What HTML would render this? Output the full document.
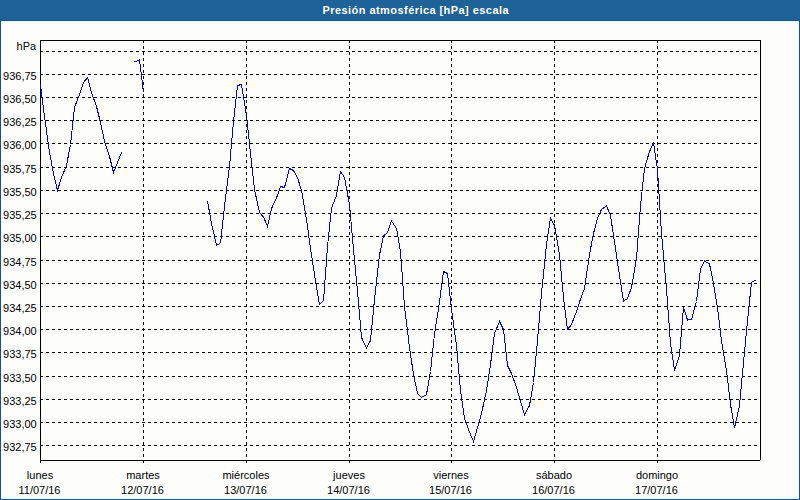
<!DOCTYPE html>
<html><head><meta charset="utf-8"><title>Presión atmosférica</title>
<style>
html,body{margin:0;padding:0;background:#fdfefc;}
body{width:800px;height:500px;overflow:hidden;position:relative;font-family:"Liberation Sans",sans-serif;}
#frame{position:absolute;left:0;top:0;width:798px;height:498px;border:1px solid #10568f;background:#fdfefc;}
#hdr{position:absolute;left:0;top:0;width:800px;height:20px;background:#1e6297;border-bottom:1px solid #10568f;color:#fff;font-weight:bold;font-size:11px;line-height:20px;white-space:nowrap;}
#ttl{position:absolute;left:322.5px;top:0;letter-spacing:0.44px;}
svg{position:absolute;left:0;top:0;}
svg text{font-family:"Liberation Sans",sans-serif;font-size:11px;fill:#000;}
</style></head><body>
<div id="frame"></div>
<div id="hdr"><span id="ttl">Presión atmosférica [hPa] escala</span></div>
<svg width="800" height="500" viewBox="0 0 800 500">
<g stroke="#000" stroke-width="1" stroke-dasharray="3 3" shape-rendering="crispEdges" fill="none">
<line x1="40" y1="51.5" x2="760" y2="51.5"/>
<line x1="40" y1="74.5" x2="760" y2="74.5"/>
<line x1="40" y1="97.5" x2="760" y2="97.5"/>
<line x1="40" y1="120.5" x2="760" y2="120.5"/>
<line x1="40" y1="143.5" x2="760" y2="143.5"/>
<line x1="40" y1="167.5" x2="760" y2="167.5"/>
<line x1="40" y1="190.5" x2="760" y2="190.5"/>
<line x1="40" y1="213.5" x2="760" y2="213.5"/>
<line x1="40" y1="236.5" x2="760" y2="236.5"/>
<line x1="40" y1="260.5" x2="760" y2="260.5"/>
<line x1="40" y1="283.5" x2="760" y2="283.5"/>
<line x1="40" y1="306.5" x2="760" y2="306.5"/>
<line x1="40" y1="329.5" x2="760" y2="329.5"/>
<line x1="40" y1="352.5" x2="760" y2="352.5"/>
<line x1="40" y1="376.5" x2="760" y2="376.5"/>
<line x1="40" y1="399.5" x2="760" y2="399.5"/>
<line x1="40" y1="422.5" x2="760" y2="422.5"/>
<line x1="40" y1="445.5" x2="760" y2="445.5"/>
<line x1="143.5" y1="40" x2="143.5" y2="460"/>
<line x1="246.5" y1="40" x2="246.5" y2="460"/>
<line x1="349.5" y1="40" x2="349.5" y2="460"/>
<line x1="451.5" y1="40" x2="451.5" y2="460"/>
<line x1="554.5" y1="40" x2="554.5" y2="460"/>
<line x1="657.5" y1="40" x2="657.5" y2="460"/>
</g>
<g fill="#000" shape-rendering="crispEdges">
<rect x="40" y="40" width="721" height="1"/>
<rect x="40" y="460" width="720" height="1"/>
<rect x="40" y="40" width="1" height="421"/>
<rect x="760" y="40" width="1" height="420"/>
<rect x="40" y="460" width="1" height="3"/>
<rect x="143" y="460" width="1" height="3"/>
<rect x="246" y="460" width="1" height="3"/>
<rect x="349" y="460" width="1" height="3"/>
<rect x="451" y="460" width="1" height="3"/>
<rect x="554" y="460" width="1" height="3"/>
<rect x="657" y="460" width="1" height="3"/>
</g>
<g stroke="#0000ff" stroke-width="1" fill="none" shape-rendering="crispEdges" stroke-linejoin="miter">
<polyline points="40.5,84.5 44.5,116.5 49.5,152.5 53.5,173.5 57.5,190.5 61.5,177.5 66.5,165.5 70.5,144.5 74.5,107.5 79.5,94.5 83.5,82.5 87.5,77.5 91.5,92.5 96.5,106.5 100.5,122.5 104.5,141.5 109.5,156.5 113.5,172.5 117.5,162.5 121.5,152.5"/>
<polyline points="134.5,62.0 139.5,60.0 143.5,92.5"/>
<polyline points="207.5,201.0 211.5,223.5 216.5,245.0 220.5,243.5 224.5,206.5 229.5,166.5 233.5,121.5 237.5,85.5 241.5,84.5 246.5,115.5 250.5,153.5 254.5,189.5 259.5,212.5 263.5,217.0 267.5,226.5 271.5,208.5 276.5,198.0 280.5,186.5 284.5,187.5 289.5,168.5 293.5,170.5 297.5,177.5 301.5,190.5 306.5,219.5 310.5,248.5 314.5,274.5 319.5,304.5 323.5,300.5 327.5,246.5 331.5,208.0 336.5,195.5 340.5,171.5 344.5,177.5 349.5,204.5 353.5,249.5 357.5,291.5 361.5,337.5 366.5,348.0 370.5,340.5 374.5,299.5 379.5,255.0 383.5,236.0 387.5,232.5 391.5,221.0 396.5,228.5 400.5,251.5 404.5,306.5 409.5,347.5 413.5,374.5 417.5,393.5 421.5,397.5 426.5,394.5 430.5,371.5 434.5,334.0 439.5,302.0 443.5,271.5 447.5,273.5 451.5,309.5 456.5,345.5 460.5,390.5 464.5,418.5 469.5,432.0 473.5,441.5 477.5,427.5 481.5,413.5 486.5,390.5 490.5,364.5 494.5,333.5 499.5,321.5 503.5,329.5 507.5,365.5 511.5,373.5 516.5,387.5 520.5,401.5 524.5,414.5 529.5,405.5 533.5,382.5 537.5,340.5 541.5,293.5 546.5,244.5 550.5,218.0 554.5,225.5 559.5,254.5 563.5,297.5 567.5,329.5 571.5,324.5 576.5,311.5 580.5,299.0 584.5,288.5 589.5,254.5 593.5,233.5 597.5,218.0 601.5,209.5 606.5,206.0 610.5,215.5 614.5,242.0 619.5,275.5 623.5,301.0 627.5,298.5 631.5,287.5 636.5,258.5 640.5,205.5 644.5,168.5 649.5,151.5 653.5,143.0 657.5,169.5 661.5,233.5 666.5,289.5 670.5,343.5 674.5,370.5 679.5,355.5 683.5,307.5 687.5,320.0 691.5,319.5 696.5,301.5 700.5,269.0 704.5,261.0 709.5,264.0 713.5,283.5 717.5,308.0 721.5,340.5 726.5,370.5 730.5,404.5 734.5,428.0 739.5,405.5 743.5,362.5 747.5,320.5 751.5,282.5 756.5,279.5"/>
</g>
<g>
<text x="36.7" y="79.5" text-anchor="end">936,75</text>
<text x="36.7" y="102.5" text-anchor="end">936,50</text>
<text x="36.7" y="125.5" text-anchor="end">936,25</text>
<text x="36.7" y="148.5" text-anchor="end">936,00</text>
<text x="36.7" y="172.5" text-anchor="end">935,75</text>
<text x="36.7" y="195.5" text-anchor="end">935,50</text>
<text x="36.7" y="218.5" text-anchor="end">935,25</text>
<text x="36.7" y="241.5" text-anchor="end">935,00</text>
<text x="36.7" y="265.5" text-anchor="end">934,75</text>
<text x="36.7" y="288.5" text-anchor="end">934,50</text>
<text x="36.7" y="311.5" text-anchor="end">934,25</text>
<text x="36.7" y="334.5" text-anchor="end">934,00</text>
<text x="36.7" y="357.5" text-anchor="end">933,75</text>
<text x="36.7" y="381.5" text-anchor="end">933,50</text>
<text x="36.7" y="404.5" text-anchor="end">933,25</text>
<text x="36.7" y="427.5" text-anchor="end">933,00</text>
<text x="36.7" y="450.5" text-anchor="end">932,75</text>
<text x="36.1" y="49.5" text-anchor="end">hPa</text>
<text x="40" y="478.5" text-anchor="middle">lunes</text>
<text x="39.5" y="493.5" text-anchor="middle">11/07/16</text>
<text x="143" y="478.5" text-anchor="middle">martes</text>
<text x="142.5" y="493.5" text-anchor="middle">12/07/16</text>
<text x="246" y="478.5" text-anchor="middle">miércoles</text>
<text x="245.5" y="493.5" text-anchor="middle">13/07/16</text>
<text x="349" y="478.5" text-anchor="middle">jueves</text>
<text x="348.5" y="493.5" text-anchor="middle">14/07/16</text>
<text x="451" y="478.5" text-anchor="middle">viernes</text>
<text x="450.5" y="493.5" text-anchor="middle">15/07/16</text>
<text x="554" y="478.5" text-anchor="middle">sábado</text>
<text x="553.5" y="493.5" text-anchor="middle">16/07/16</text>
<text x="657" y="478.5" text-anchor="middle">domingo</text>
<text x="656.5" y="493.5" text-anchor="middle">17/07/16</text>
</g>
</svg>
</body></html>
